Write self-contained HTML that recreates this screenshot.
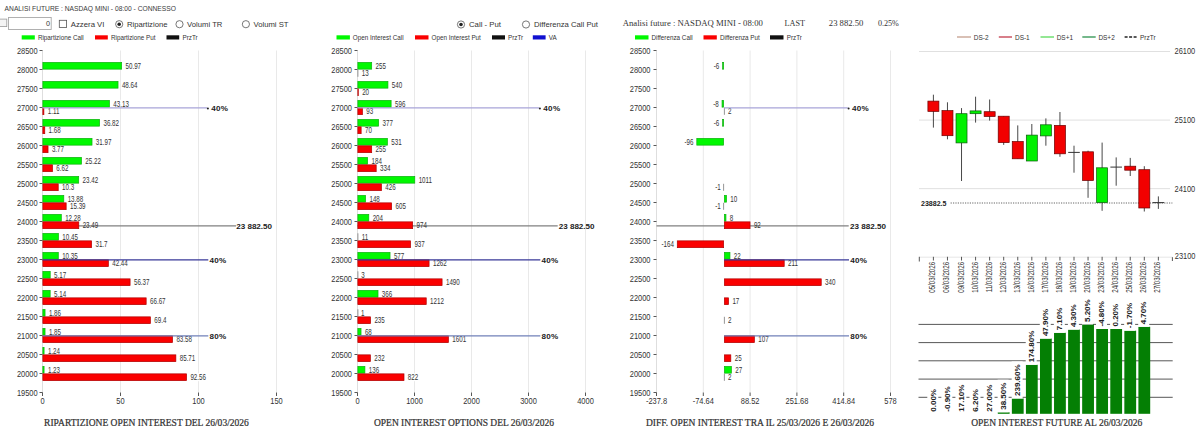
<!DOCTYPE html><html><head><meta charset="utf-8"><style>html,body{margin:0;padding:0;background:#fff;overflow:hidden;}svg{display:block;}</style></head><body>
<svg width="1200" height="431" viewBox="0 0 1200 431">
<rect x="0.00" y="0.00" width="1200.00" height="431.00" fill="#fff" stroke="none" stroke-width="0" />
<text x="4.60" y="10.67" font-size="6.7" text-anchor="start" font-weight="normal" font-family='"Liberation Sans", sans-serif' fill="#3a3a3a" >ANALISI FUTURE : NASDAQ MINI - 08:00 - CONNESSO</text>
<rect x="-2.00" y="19.10" width="8.80" height="7.50" fill="#f4f4f4" stroke="#9a9a9a" stroke-width="0.8" />
<rect x="8.50" y="17.50" width="42.70" height="12.00" fill="#fff" stroke="#a8a8a8" stroke-width="0.9" />
<text x="50.00" y="26.25" font-size="7.2" text-anchor="end" font-weight="normal" font-family='"Liberation Sans", sans-serif' fill="#333" >0</text>
<rect x="59.30" y="20.30" width="7.30" height="7.30" fill="#fff" stroke="#555" stroke-width="0.8" />
<text x="70.80" y="26.65" font-size="7.77" text-anchor="start" font-weight="normal" font-family='"Liberation Sans", sans-serif' fill="#333" >Azzera VI</text>
<circle cx="119.2" cy="24.2" r="3.6" fill="#fff" stroke="#555" stroke-width="0.8"/>
<circle cx="119.2" cy="24.2" r="1.8" fill="#222"/>
<text x="126.90" y="26.93" font-size="7.7" text-anchor="start" font-weight="normal" font-family='"Liberation Sans", sans-serif' fill="#333" >Ripartizione</text>
<circle cx="179.5" cy="24.2" r="3.6" fill="#fff" stroke="#555" stroke-width="0.8"/>
<text x="187.10" y="26.93" font-size="7.7" text-anchor="start" font-weight="normal" font-family='"Liberation Sans", sans-serif' fill="#333" >Volumi TR</text>
<circle cx="245.9" cy="24.2" r="3.6" fill="#fff" stroke="#555" stroke-width="0.8"/>
<text x="253.50" y="26.93" font-size="7.7" text-anchor="start" font-weight="normal" font-family='"Liberation Sans", sans-serif' fill="#333" >Volumi ST</text>
<rect x="21.70" y="35.30" width="13.10" height="4.20" fill="#00f800" stroke="none" stroke-width="0" />
<text x="37.90" y="39.63" font-size="6.3" text-anchor="start" font-weight="normal" font-family='"Liberation Sans", sans-serif' fill="#333" >Ripartizione Call</text>
<rect x="95.00" y="35.30" width="12.80" height="4.20" fill="#fa0000" stroke="none" stroke-width="0" />
<text x="111.00" y="39.63" font-size="6.3" text-anchor="start" font-weight="normal" font-family='"Liberation Sans", sans-serif' fill="#333" >Ripartizione Put</text>
<rect x="166.50" y="35.30" width="12.70" height="4.20" fill="#111" stroke="none" stroke-width="0" />
<text x="182.50" y="39.63" font-size="6.3" text-anchor="start" font-weight="normal" font-family='"Liberation Sans", sans-serif' fill="#333" >PrzTr</text>
<line x1="120.50" y1="50.50" x2="120.50" y2="392.50" stroke="#e9e9e9" stroke-width="1" />
<line x1="198.50" y1="50.50" x2="198.50" y2="392.50" stroke="#e9e9e9" stroke-width="1" />
<line x1="276.50" y1="50.50" x2="276.50" y2="392.50" stroke="#e9e9e9" stroke-width="1" />
<line x1="42.50" y1="50.50" x2="42.50" y2="392.50" stroke="#dedede" stroke-width="1" />
<line x1="39.50" y1="50.50" x2="42.50" y2="50.50" stroke="#444" stroke-width="0.9" />
<text transform="translate(37.60,54.14) scale(0.9,1)" font-size="8.3" text-anchor="end" font-weight="normal" font-family='"Liberation Sans", sans-serif' fill="#333" >28500</text>
<line x1="39.50" y1="69.50" x2="42.50" y2="69.50" stroke="#444" stroke-width="0.9" />
<text transform="translate(37.60,73.14) scale(0.9,1)" font-size="8.3" text-anchor="end" font-weight="normal" font-family='"Liberation Sans", sans-serif' fill="#333" >28000</text>
<line x1="39.50" y1="88.50" x2="42.50" y2="88.50" stroke="#444" stroke-width="0.9" />
<text transform="translate(37.60,92.14) scale(0.9,1)" font-size="8.3" text-anchor="end" font-weight="normal" font-family='"Liberation Sans", sans-serif' fill="#333" >27500</text>
<line x1="39.50" y1="107.50" x2="42.50" y2="107.50" stroke="#444" stroke-width="0.9" />
<text transform="translate(37.60,111.14) scale(0.9,1)" font-size="8.3" text-anchor="end" font-weight="normal" font-family='"Liberation Sans", sans-serif' fill="#333" >27000</text>
<line x1="39.50" y1="126.50" x2="42.50" y2="126.50" stroke="#444" stroke-width="0.9" />
<text transform="translate(37.60,130.14) scale(0.9,1)" font-size="8.3" text-anchor="end" font-weight="normal" font-family='"Liberation Sans", sans-serif' fill="#333" >26500</text>
<line x1="39.50" y1="145.50" x2="42.50" y2="145.50" stroke="#444" stroke-width="0.9" />
<text transform="translate(37.60,149.14) scale(0.9,1)" font-size="8.3" text-anchor="end" font-weight="normal" font-family='"Liberation Sans", sans-serif' fill="#333" >26000</text>
<line x1="39.50" y1="164.50" x2="42.50" y2="164.50" stroke="#444" stroke-width="0.9" />
<text transform="translate(37.60,168.14) scale(0.9,1)" font-size="8.3" text-anchor="end" font-weight="normal" font-family='"Liberation Sans", sans-serif' fill="#333" >25500</text>
<line x1="39.50" y1="183.50" x2="42.50" y2="183.50" stroke="#444" stroke-width="0.9" />
<text transform="translate(37.60,187.14) scale(0.9,1)" font-size="8.3" text-anchor="end" font-weight="normal" font-family='"Liberation Sans", sans-serif' fill="#333" >25000</text>
<line x1="39.50" y1="202.50" x2="42.50" y2="202.50" stroke="#444" stroke-width="0.9" />
<text transform="translate(37.60,206.14) scale(0.9,1)" font-size="8.3" text-anchor="end" font-weight="normal" font-family='"Liberation Sans", sans-serif' fill="#333" >24500</text>
<line x1="39.50" y1="221.50" x2="42.50" y2="221.50" stroke="#444" stroke-width="0.9" />
<text transform="translate(37.60,225.14) scale(0.9,1)" font-size="8.3" text-anchor="end" font-weight="normal" font-family='"Liberation Sans", sans-serif' fill="#333" >24000</text>
<line x1="39.50" y1="240.50" x2="42.50" y2="240.50" stroke="#444" stroke-width="0.9" />
<text transform="translate(37.60,244.14) scale(0.9,1)" font-size="8.3" text-anchor="end" font-weight="normal" font-family='"Liberation Sans", sans-serif' fill="#333" >23500</text>
<line x1="39.50" y1="259.50" x2="42.50" y2="259.50" stroke="#444" stroke-width="0.9" />
<text transform="translate(37.60,263.14) scale(0.9,1)" font-size="8.3" text-anchor="end" font-weight="normal" font-family='"Liberation Sans", sans-serif' fill="#333" >23000</text>
<line x1="39.50" y1="278.50" x2="42.50" y2="278.50" stroke="#444" stroke-width="0.9" />
<text transform="translate(37.60,282.14) scale(0.9,1)" font-size="8.3" text-anchor="end" font-weight="normal" font-family='"Liberation Sans", sans-serif' fill="#333" >22500</text>
<line x1="39.50" y1="297.50" x2="42.50" y2="297.50" stroke="#444" stroke-width="0.9" />
<text transform="translate(37.60,301.14) scale(0.9,1)" font-size="8.3" text-anchor="end" font-weight="normal" font-family='"Liberation Sans", sans-serif' fill="#333" >22000</text>
<line x1="39.50" y1="316.50" x2="42.50" y2="316.50" stroke="#444" stroke-width="0.9" />
<text transform="translate(37.60,320.14) scale(0.9,1)" font-size="8.3" text-anchor="end" font-weight="normal" font-family='"Liberation Sans", sans-serif' fill="#333" >21500</text>
<line x1="39.50" y1="335.50" x2="42.50" y2="335.50" stroke="#444" stroke-width="0.9" />
<text transform="translate(37.60,339.14) scale(0.9,1)" font-size="8.3" text-anchor="end" font-weight="normal" font-family='"Liberation Sans", sans-serif' fill="#333" >21000</text>
<line x1="39.50" y1="354.50" x2="42.50" y2="354.50" stroke="#444" stroke-width="0.9" />
<text transform="translate(37.60,358.14) scale(0.9,1)" font-size="8.3" text-anchor="end" font-weight="normal" font-family='"Liberation Sans", sans-serif' fill="#333" >20500</text>
<line x1="39.50" y1="373.50" x2="42.50" y2="373.50" stroke="#444" stroke-width="0.9" />
<text transform="translate(37.60,377.14) scale(0.9,1)" font-size="8.3" text-anchor="end" font-weight="normal" font-family='"Liberation Sans", sans-serif' fill="#333" >20000</text>
<line x1="39.50" y1="392.50" x2="42.50" y2="392.50" stroke="#444" stroke-width="0.9" />
<text transform="translate(37.60,396.14) scale(0.9,1)" font-size="8.3" text-anchor="end" font-weight="normal" font-family='"Liberation Sans", sans-serif' fill="#333" >19500</text>
<line x1="42.50" y1="392.50" x2="42.50" y2="396.00" stroke="#444" stroke-width="0.9" />
<text transform="translate(42.50,404.14) scale(0.9,1)" font-size="8.3" text-anchor="middle" font-weight="normal" font-family='"Liberation Sans", sans-serif' fill="#333" >0</text>
<line x1="120.50" y1="392.50" x2="120.50" y2="396.00" stroke="#444" stroke-width="0.9" />
<text transform="translate(120.50,404.14) scale(0.9,1)" font-size="8.3" text-anchor="middle" font-weight="normal" font-family='"Liberation Sans", sans-serif' fill="#333" >50</text>
<line x1="198.50" y1="392.50" x2="198.50" y2="396.00" stroke="#444" stroke-width="0.9" />
<text transform="translate(198.50,404.14) scale(0.9,1)" font-size="8.3" text-anchor="middle" font-weight="normal" font-family='"Liberation Sans", sans-serif' fill="#333" >100</text>
<line x1="276.50" y1="392.50" x2="276.50" y2="396.00" stroke="#444" stroke-width="0.9" />
<text transform="translate(276.50,404.14) scale(0.9,1)" font-size="8.3" text-anchor="middle" font-weight="normal" font-family='"Liberation Sans", sans-serif' fill="#333" >150</text>
<rect x="124.51" y="61.80" width="17.60" height="8.00" fill="#fff" stroke="none" stroke-width="0" />
<rect x="120.88" y="80.80" width="17.60" height="8.00" fill="#fff" stroke="none" stroke-width="0" />
<rect x="112.28" y="99.80" width="17.60" height="8.00" fill="#fff" stroke="none" stroke-width="0" />
<rect x="46.73" y="107.20" width="13.67" height="8.00" fill="#fff" stroke="none" stroke-width="0" />
<rect x="102.44" y="118.80" width="17.60" height="8.00" fill="#fff" stroke="none" stroke-width="0" />
<rect x="47.62" y="126.20" width="14.13" height="8.00" fill="#fff" stroke="none" stroke-width="0" />
<rect x="94.87" y="137.80" width="17.60" height="8.00" fill="#fff" stroke="none" stroke-width="0" />
<rect x="50.88" y="145.20" width="14.13" height="8.00" fill="#fff" stroke="none" stroke-width="0" />
<rect x="84.34" y="156.80" width="17.60" height="8.00" fill="#fff" stroke="none" stroke-width="0" />
<rect x="55.33" y="164.20" width="14.13" height="8.00" fill="#fff" stroke="none" stroke-width="0" />
<rect x="81.54" y="175.80" width="17.60" height="8.00" fill="#fff" stroke="none" stroke-width="0" />
<rect x="61.07" y="183.20" width="14.13" height="8.00" fill="#fff" stroke="none" stroke-width="0" />
<rect x="66.65" y="194.80" width="17.60" height="8.00" fill="#fff" stroke="none" stroke-width="0" />
<rect x="69.01" y="202.20" width="17.60" height="8.00" fill="#fff" stroke="none" stroke-width="0" />
<rect x="64.16" y="213.80" width="17.60" height="8.00" fill="#fff" stroke="none" stroke-width="0" />
<rect x="81.64" y="221.20" width="17.60" height="8.00" fill="#fff" stroke="none" stroke-width="0" />
<rect x="61.30" y="232.80" width="17.60" height="8.00" fill="#fff" stroke="none" stroke-width="0" />
<rect x="94.45" y="240.20" width="14.13" height="8.00" fill="#fff" stroke="none" stroke-width="0" />
<rect x="61.15" y="251.80" width="17.60" height="8.00" fill="#fff" stroke="none" stroke-width="0" />
<rect x="111.21" y="259.20" width="17.60" height="8.00" fill="#fff" stroke="none" stroke-width="0" />
<rect x="53.07" y="270.80" width="14.13" height="8.00" fill="#fff" stroke="none" stroke-width="0" />
<rect x="132.94" y="278.20" width="17.60" height="8.00" fill="#fff" stroke="none" stroke-width="0" />
<rect x="53.02" y="289.80" width="14.13" height="8.00" fill="#fff" stroke="none" stroke-width="0" />
<rect x="149.01" y="297.20" width="17.60" height="8.00" fill="#fff" stroke="none" stroke-width="0" />
<rect x="47.90" y="308.80" width="14.13" height="8.00" fill="#fff" stroke="none" stroke-width="0" />
<rect x="153.26" y="316.20" width="14.13" height="8.00" fill="#fff" stroke="none" stroke-width="0" />
<rect x="47.89" y="327.80" width="14.13" height="8.00" fill="#fff" stroke="none" stroke-width="0" />
<rect x="175.38" y="335.20" width="17.60" height="8.00" fill="#fff" stroke="none" stroke-width="0" />
<rect x="46.93" y="346.80" width="14.13" height="8.00" fill="#fff" stroke="none" stroke-width="0" />
<rect x="178.71" y="354.20" width="17.60" height="8.00" fill="#fff" stroke="none" stroke-width="0" />
<rect x="46.92" y="365.80" width="14.13" height="8.00" fill="#fff" stroke="none" stroke-width="0" />
<rect x="189.39" y="373.20" width="17.60" height="8.00" fill="#fff" stroke="none" stroke-width="0" />
<line x1="42.50" y1="225.97" x2="236.00" y2="225.97" stroke="#808080" stroke-width="1.2" />
<rect x="42.85" y="62.35" width="78.81" height="6.80" fill="#00f800" stroke="#10b010" stroke-width="0.7" />
<text transform="translate(125.51,68.70) scale(0.76,1)" font-size="8.2" text-anchor="start" font-weight="normal" font-family='"Liberation Sans", sans-serif' fill="#333" >50.97</text>
<rect x="42.85" y="81.35" width="75.18" height="6.80" fill="#00f800" stroke="#10b010" stroke-width="0.7" />
<text transform="translate(121.88,87.70) scale(0.76,1)" font-size="8.2" text-anchor="start" font-weight="normal" font-family='"Liberation Sans", sans-serif' fill="#333" >48.64</text>
<rect x="42.85" y="100.35" width="66.58" height="6.80" fill="#00f800" stroke="#10b010" stroke-width="0.7" />
<text transform="translate(113.28,106.70) scale(0.76,1)" font-size="8.2" text-anchor="start" font-weight="normal" font-family='"Liberation Sans", sans-serif' fill="#333" >43.13</text>
<rect x="42.85" y="107.85" width="1.03" height="6.80" fill="#fa0000" stroke="#b00000" stroke-width="0.7" />
<text transform="translate(47.73,114.10) scale(0.76,1)" font-size="8.2" text-anchor="start" font-weight="normal" font-family='"Liberation Sans", sans-serif' fill="#333" >1.11</text>
<rect x="42.85" y="119.35" width="56.74" height="6.80" fill="#00f800" stroke="#10b010" stroke-width="0.7" />
<text transform="translate(103.44,125.70) scale(0.76,1)" font-size="8.2" text-anchor="start" font-weight="normal" font-family='"Liberation Sans", sans-serif' fill="#333" >36.82</text>
<rect x="42.85" y="126.85" width="1.92" height="6.80" fill="#fa0000" stroke="#b00000" stroke-width="0.7" />
<text transform="translate(48.62,133.10) scale(0.76,1)" font-size="8.2" text-anchor="start" font-weight="normal" font-family='"Liberation Sans", sans-serif' fill="#333" >1.68</text>
<rect x="42.85" y="138.35" width="49.17" height="6.80" fill="#00f800" stroke="#10b010" stroke-width="0.7" />
<text transform="translate(95.87,144.70) scale(0.76,1)" font-size="8.2" text-anchor="start" font-weight="normal" font-family='"Liberation Sans", sans-serif' fill="#333" >31.97</text>
<rect x="42.85" y="145.85" width="5.18" height="6.80" fill="#fa0000" stroke="#b00000" stroke-width="0.7" />
<text transform="translate(51.88,152.10) scale(0.76,1)" font-size="8.2" text-anchor="start" font-weight="normal" font-family='"Liberation Sans", sans-serif' fill="#333" >3.77</text>
<rect x="42.85" y="157.35" width="38.64" height="6.80" fill="#00f800" stroke="#10b010" stroke-width="0.7" />
<text transform="translate(85.34,163.70) scale(0.76,1)" font-size="8.2" text-anchor="start" font-weight="normal" font-family='"Liberation Sans", sans-serif' fill="#333" >25.22</text>
<rect x="42.85" y="164.85" width="9.63" height="6.80" fill="#fa0000" stroke="#b00000" stroke-width="0.7" />
<text transform="translate(56.33,171.10) scale(0.76,1)" font-size="8.2" text-anchor="start" font-weight="normal" font-family='"Liberation Sans", sans-serif' fill="#333" >6.62</text>
<rect x="42.85" y="176.35" width="35.84" height="6.80" fill="#00f800" stroke="#10b010" stroke-width="0.7" />
<text transform="translate(82.54,182.70) scale(0.76,1)" font-size="8.2" text-anchor="start" font-weight="normal" font-family='"Liberation Sans", sans-serif' fill="#333" >23.42</text>
<rect x="42.85" y="183.85" width="15.37" height="6.80" fill="#fa0000" stroke="#b00000" stroke-width="0.7" />
<text transform="translate(62.07,190.10) scale(0.76,1)" font-size="8.2" text-anchor="start" font-weight="normal" font-family='"Liberation Sans", sans-serif' fill="#333" >10.3</text>
<rect x="42.85" y="195.35" width="20.95" height="6.80" fill="#00f800" stroke="#10b010" stroke-width="0.7" />
<text transform="translate(67.65,201.70) scale(0.76,1)" font-size="8.2" text-anchor="start" font-weight="normal" font-family='"Liberation Sans", sans-serif' fill="#333" >13.88</text>
<rect x="42.85" y="202.85" width="23.31" height="6.80" fill="#fa0000" stroke="#b00000" stroke-width="0.7" />
<text transform="translate(70.01,209.10) scale(0.76,1)" font-size="8.2" text-anchor="start" font-weight="normal" font-family='"Liberation Sans", sans-serif' fill="#333" >15.39</text>
<rect x="42.85" y="214.35" width="18.46" height="6.80" fill="#00f800" stroke="#10b010" stroke-width="0.7" />
<text transform="translate(65.16,220.70) scale(0.76,1)" font-size="8.2" text-anchor="start" font-weight="normal" font-family='"Liberation Sans", sans-serif' fill="#333" >12.28</text>
<rect x="42.85" y="221.85" width="35.94" height="6.80" fill="#fa0000" stroke="#b00000" stroke-width="0.7" />
<text transform="translate(82.64,228.10) scale(0.76,1)" font-size="8.2" text-anchor="start" font-weight="normal" font-family='"Liberation Sans", sans-serif' fill="#333" >23.49</text>
<rect x="42.85" y="233.35" width="15.60" height="6.80" fill="#00f800" stroke="#10b010" stroke-width="0.7" />
<text transform="translate(62.30,239.70) scale(0.76,1)" font-size="8.2" text-anchor="start" font-weight="normal" font-family='"Liberation Sans", sans-serif' fill="#333" >10.45</text>
<rect x="42.85" y="240.85" width="48.75" height="6.80" fill="#fa0000" stroke="#b00000" stroke-width="0.7" />
<text transform="translate(95.45,247.10) scale(0.76,1)" font-size="8.2" text-anchor="start" font-weight="normal" font-family='"Liberation Sans", sans-serif' fill="#333" >31.7</text>
<rect x="42.85" y="252.35" width="15.45" height="6.80" fill="#00f800" stroke="#10b010" stroke-width="0.7" />
<text transform="translate(62.15,258.70) scale(0.76,1)" font-size="8.2" text-anchor="start" font-weight="normal" font-family='"Liberation Sans", sans-serif' fill="#333" >10.35</text>
<rect x="42.85" y="259.85" width="65.51" height="6.80" fill="#fa0000" stroke="#b00000" stroke-width="0.7" />
<text transform="translate(112.21,266.10) scale(0.76,1)" font-size="8.2" text-anchor="start" font-weight="normal" font-family='"Liberation Sans", sans-serif' fill="#333" >42.44</text>
<rect x="42.85" y="271.35" width="7.37" height="6.80" fill="#00f800" stroke="#10b010" stroke-width="0.7" />
<text transform="translate(54.07,277.70) scale(0.76,1)" font-size="8.2" text-anchor="start" font-weight="normal" font-family='"Liberation Sans", sans-serif' fill="#333" >5.17</text>
<rect x="42.85" y="278.85" width="87.24" height="6.80" fill="#fa0000" stroke="#b00000" stroke-width="0.7" />
<text transform="translate(133.94,285.10) scale(0.76,1)" font-size="8.2" text-anchor="start" font-weight="normal" font-family='"Liberation Sans", sans-serif' fill="#333" >56.37</text>
<rect x="42.85" y="290.35" width="7.32" height="6.80" fill="#00f800" stroke="#10b010" stroke-width="0.7" />
<text transform="translate(54.02,296.70) scale(0.76,1)" font-size="8.2" text-anchor="start" font-weight="normal" font-family='"Liberation Sans", sans-serif' fill="#333" >5.14</text>
<rect x="42.85" y="297.85" width="103.31" height="6.80" fill="#fa0000" stroke="#b00000" stroke-width="0.7" />
<text transform="translate(150.01,304.10) scale(0.76,1)" font-size="8.2" text-anchor="start" font-weight="normal" font-family='"Liberation Sans", sans-serif' fill="#333" >66.67</text>
<rect x="42.85" y="309.35" width="2.20" height="6.80" fill="#00f800" stroke="#10b010" stroke-width="0.7" />
<text transform="translate(48.90,315.70) scale(0.76,1)" font-size="8.2" text-anchor="start" font-weight="normal" font-family='"Liberation Sans", sans-serif' fill="#333" >1.86</text>
<rect x="42.85" y="316.85" width="107.56" height="6.80" fill="#fa0000" stroke="#b00000" stroke-width="0.7" />
<text transform="translate(154.26,323.10) scale(0.76,1)" font-size="8.2" text-anchor="start" font-weight="normal" font-family='"Liberation Sans", sans-serif' fill="#333" >69.4</text>
<rect x="42.85" y="328.35" width="2.19" height="6.80" fill="#00f800" stroke="#10b010" stroke-width="0.7" />
<text transform="translate(48.89,334.70) scale(0.76,1)" font-size="8.2" text-anchor="start" font-weight="normal" font-family='"Liberation Sans", sans-serif' fill="#333" >1.85</text>
<rect x="42.85" y="335.85" width="129.68" height="6.80" fill="#fa0000" stroke="#b00000" stroke-width="0.7" />
<text transform="translate(176.38,342.10) scale(0.76,1)" font-size="8.2" text-anchor="start" font-weight="normal" font-family='"Liberation Sans", sans-serif' fill="#333" >83.58</text>
<rect x="42.85" y="347.35" width="1.23" height="6.80" fill="#00f800" stroke="#10b010" stroke-width="0.7" />
<text transform="translate(47.93,353.70) scale(0.76,1)" font-size="8.2" text-anchor="start" font-weight="normal" font-family='"Liberation Sans", sans-serif' fill="#333" >1.24</text>
<rect x="42.85" y="354.85" width="133.01" height="6.80" fill="#fa0000" stroke="#b00000" stroke-width="0.7" />
<text transform="translate(179.71,361.10) scale(0.76,1)" font-size="8.2" text-anchor="start" font-weight="normal" font-family='"Liberation Sans", sans-serif' fill="#333" >85.71</text>
<rect x="42.85" y="366.35" width="1.22" height="6.80" fill="#00f800" stroke="#10b010" stroke-width="0.7" />
<text transform="translate(47.92,372.70) scale(0.76,1)" font-size="8.2" text-anchor="start" font-weight="normal" font-family='"Liberation Sans", sans-serif' fill="#333" >1.23</text>
<rect x="42.85" y="373.85" width="143.69" height="6.80" fill="#fa0000" stroke="#b00000" stroke-width="0.7" />
<text transform="translate(190.39,380.10) scale(0.76,1)" font-size="8.2" text-anchor="start" font-weight="normal" font-family='"Liberation Sans", sans-serif' fill="#333" >92.56</text>
<line x1="42.50" y1="107.80" x2="207.10" y2="107.80" stroke="#a8a4d8" stroke-width="1.3" />
<circle cx="207.90" cy="108.40" r="1.0" fill="#222"/>
<text x="211.20" y="111.37" font-size="8.1" text-anchor="start" font-weight="bold" font-family='"Liberation Sans", sans-serif' fill="#222" letter-spacing="0.3">40%</text>
<text x="236.20" y="229.12" font-size="8.07" text-anchor="start" font-weight="bold" font-family='"Liberation Sans", sans-serif' fill="#222" >23 882.50</text>
<line x1="42.50" y1="259.80" x2="208.30" y2="259.80" stroke="#383898" stroke-width="1.3" />
<text x="209.40" y="263.37" font-size="8.1" text-anchor="start" font-weight="bold" font-family='"Liberation Sans", sans-serif' fill="#222" letter-spacing="0.3">40%</text>
<line x1="42.50" y1="335.80" x2="208.30" y2="335.80" stroke="#7080b8" stroke-width="1.3" />
<text x="209.40" y="339.37" font-size="8.1" text-anchor="start" font-weight="bold" font-family='"Liberation Sans", sans-serif' fill="#222" letter-spacing="0.3">80%</text>
<text x="44.10" y="425.67" font-size="9.52" text-anchor="start" font-weight="normal" font-family='"Liberation Serif", serif' fill="#333" stroke="#333" stroke-width="0.22">RIPARTIZIONE OPEN INTEREST DEL 26/03/2026</text>
<circle cx="461" cy="24.5" r="3.6" fill="#fff" stroke="#555" stroke-width="0.8"/>
<circle cx="461" cy="24.5" r="1.8" fill="#222"/>
<text x="469.00" y="27.25" font-size="7.78" text-anchor="start" font-weight="normal" font-family='"Liberation Sans", sans-serif' fill="#333" >Call - Put</text>
<circle cx="526" cy="24.5" r="3.6" fill="#fff" stroke="#555" stroke-width="0.8"/>
<text x="534.00" y="27.22" font-size="7.69" text-anchor="start" font-weight="normal" font-family='"Liberation Sans", sans-serif' fill="#333" >Differenza Call Put</text>
<rect x="336.50" y="35.30" width="13.40" height="4.20" fill="#00f800" stroke="none" stroke-width="0" />
<text x="352.80" y="39.63" font-size="6.3" text-anchor="start" font-weight="normal" font-family='"Liberation Sans", sans-serif' fill="#333" >Open Interest Call</text>
<rect x="415.00" y="35.30" width="13.50" height="4.20" fill="#fa0000" stroke="none" stroke-width="0" />
<text x="431.50" y="39.63" font-size="6.3" text-anchor="start" font-weight="normal" font-family='"Liberation Sans", sans-serif' fill="#333" >Open Interest Put</text>
<rect x="492.00" y="35.30" width="13.00" height="4.20" fill="#111" stroke="none" stroke-width="0" />
<text x="508.00" y="39.63" font-size="6.3" text-anchor="start" font-weight="normal" font-family='"Liberation Sans", sans-serif' fill="#333" >PrzTr</text>
<rect x="532.80" y="35.30" width="12.80" height="4.20" fill="#1010d0" stroke="none" stroke-width="0" />
<text x="548.80" y="39.63" font-size="6.3" text-anchor="start" font-weight="normal" font-family='"Liberation Sans", sans-serif' fill="#333" >VA</text>
<line x1="414.50" y1="50.50" x2="414.50" y2="392.50" stroke="#e9e9e9" stroke-width="1" />
<line x1="471.50" y1="50.50" x2="471.50" y2="392.50" stroke="#e9e9e9" stroke-width="1" />
<line x1="528.50" y1="50.50" x2="528.50" y2="392.50" stroke="#e9e9e9" stroke-width="1" />
<line x1="585.50" y1="50.50" x2="585.50" y2="392.50" stroke="#e9e9e9" stroke-width="1" />
<line x1="357.50" y1="50.50" x2="357.50" y2="392.50" stroke="#dedede" stroke-width="1" />
<line x1="354.50" y1="50.50" x2="357.50" y2="50.50" stroke="#444" stroke-width="0.9" />
<text transform="translate(352.00,54.14) scale(0.9,1)" font-size="8.3" text-anchor="end" font-weight="normal" font-family='"Liberation Sans", sans-serif' fill="#333" >28500</text>
<line x1="354.50" y1="69.50" x2="357.50" y2="69.50" stroke="#444" stroke-width="0.9" />
<text transform="translate(352.00,73.14) scale(0.9,1)" font-size="8.3" text-anchor="end" font-weight="normal" font-family='"Liberation Sans", sans-serif' fill="#333" >28000</text>
<line x1="354.50" y1="88.50" x2="357.50" y2="88.50" stroke="#444" stroke-width="0.9" />
<text transform="translate(352.00,92.14) scale(0.9,1)" font-size="8.3" text-anchor="end" font-weight="normal" font-family='"Liberation Sans", sans-serif' fill="#333" >27500</text>
<line x1="354.50" y1="107.50" x2="357.50" y2="107.50" stroke="#444" stroke-width="0.9" />
<text transform="translate(352.00,111.14) scale(0.9,1)" font-size="8.3" text-anchor="end" font-weight="normal" font-family='"Liberation Sans", sans-serif' fill="#333" >27000</text>
<line x1="354.50" y1="126.50" x2="357.50" y2="126.50" stroke="#444" stroke-width="0.9" />
<text transform="translate(352.00,130.14) scale(0.9,1)" font-size="8.3" text-anchor="end" font-weight="normal" font-family='"Liberation Sans", sans-serif' fill="#333" >26500</text>
<line x1="354.50" y1="145.50" x2="357.50" y2="145.50" stroke="#444" stroke-width="0.9" />
<text transform="translate(352.00,149.14) scale(0.9,1)" font-size="8.3" text-anchor="end" font-weight="normal" font-family='"Liberation Sans", sans-serif' fill="#333" >26000</text>
<line x1="354.50" y1="164.50" x2="357.50" y2="164.50" stroke="#444" stroke-width="0.9" />
<text transform="translate(352.00,168.14) scale(0.9,1)" font-size="8.3" text-anchor="end" font-weight="normal" font-family='"Liberation Sans", sans-serif' fill="#333" >25500</text>
<line x1="354.50" y1="183.50" x2="357.50" y2="183.50" stroke="#444" stroke-width="0.9" />
<text transform="translate(352.00,187.14) scale(0.9,1)" font-size="8.3" text-anchor="end" font-weight="normal" font-family='"Liberation Sans", sans-serif' fill="#333" >25000</text>
<line x1="354.50" y1="202.50" x2="357.50" y2="202.50" stroke="#444" stroke-width="0.9" />
<text transform="translate(352.00,206.14) scale(0.9,1)" font-size="8.3" text-anchor="end" font-weight="normal" font-family='"Liberation Sans", sans-serif' fill="#333" >24500</text>
<line x1="354.50" y1="221.50" x2="357.50" y2="221.50" stroke="#444" stroke-width="0.9" />
<text transform="translate(352.00,225.14) scale(0.9,1)" font-size="8.3" text-anchor="end" font-weight="normal" font-family='"Liberation Sans", sans-serif' fill="#333" >24000</text>
<line x1="354.50" y1="240.50" x2="357.50" y2="240.50" stroke="#444" stroke-width="0.9" />
<text transform="translate(352.00,244.14) scale(0.9,1)" font-size="8.3" text-anchor="end" font-weight="normal" font-family='"Liberation Sans", sans-serif' fill="#333" >23500</text>
<line x1="354.50" y1="259.50" x2="357.50" y2="259.50" stroke="#444" stroke-width="0.9" />
<text transform="translate(352.00,263.14) scale(0.9,1)" font-size="8.3" text-anchor="end" font-weight="normal" font-family='"Liberation Sans", sans-serif' fill="#333" >23000</text>
<line x1="354.50" y1="278.50" x2="357.50" y2="278.50" stroke="#444" stroke-width="0.9" />
<text transform="translate(352.00,282.14) scale(0.9,1)" font-size="8.3" text-anchor="end" font-weight="normal" font-family='"Liberation Sans", sans-serif' fill="#333" >22500</text>
<line x1="354.50" y1="297.50" x2="357.50" y2="297.50" stroke="#444" stroke-width="0.9" />
<text transform="translate(352.00,301.14) scale(0.9,1)" font-size="8.3" text-anchor="end" font-weight="normal" font-family='"Liberation Sans", sans-serif' fill="#333" >22000</text>
<line x1="354.50" y1="316.50" x2="357.50" y2="316.50" stroke="#444" stroke-width="0.9" />
<text transform="translate(352.00,320.14) scale(0.9,1)" font-size="8.3" text-anchor="end" font-weight="normal" font-family='"Liberation Sans", sans-serif' fill="#333" >21500</text>
<line x1="354.50" y1="335.50" x2="357.50" y2="335.50" stroke="#444" stroke-width="0.9" />
<text transform="translate(352.00,339.14) scale(0.9,1)" font-size="8.3" text-anchor="end" font-weight="normal" font-family='"Liberation Sans", sans-serif' fill="#333" >21000</text>
<line x1="354.50" y1="354.50" x2="357.50" y2="354.50" stroke="#444" stroke-width="0.9" />
<text transform="translate(352.00,358.14) scale(0.9,1)" font-size="8.3" text-anchor="end" font-weight="normal" font-family='"Liberation Sans", sans-serif' fill="#333" >20500</text>
<line x1="354.50" y1="373.50" x2="357.50" y2="373.50" stroke="#444" stroke-width="0.9" />
<text transform="translate(352.00,377.14) scale(0.9,1)" font-size="8.3" text-anchor="end" font-weight="normal" font-family='"Liberation Sans", sans-serif' fill="#333" >20000</text>
<line x1="354.50" y1="392.50" x2="357.50" y2="392.50" stroke="#444" stroke-width="0.9" />
<text transform="translate(352.00,396.14) scale(0.9,1)" font-size="8.3" text-anchor="end" font-weight="normal" font-family='"Liberation Sans", sans-serif' fill="#333" >19500</text>
<line x1="357.50" y1="392.50" x2="357.50" y2="396.00" stroke="#444" stroke-width="0.9" />
<text transform="translate(357.50,404.14) scale(0.9,1)" font-size="8.3" text-anchor="middle" font-weight="normal" font-family='"Liberation Sans", sans-serif' fill="#333" >0</text>
<line x1="414.50" y1="392.50" x2="414.50" y2="396.00" stroke="#444" stroke-width="0.9" />
<text transform="translate(414.50,404.14) scale(0.9,1)" font-size="8.3" text-anchor="middle" font-weight="normal" font-family='"Liberation Sans", sans-serif' fill="#333" >1000</text>
<line x1="471.50" y1="392.50" x2="471.50" y2="396.00" stroke="#444" stroke-width="0.9" />
<text transform="translate(471.50,404.14) scale(0.9,1)" font-size="8.3" text-anchor="middle" font-weight="normal" font-family='"Liberation Sans", sans-serif' fill="#333" >2000</text>
<line x1="528.50" y1="392.50" x2="528.50" y2="396.00" stroke="#444" stroke-width="0.9" />
<text transform="translate(528.50,404.14) scale(0.9,1)" font-size="8.3" text-anchor="middle" font-weight="normal" font-family='"Liberation Sans", sans-serif' fill="#333" >3000</text>
<line x1="585.50" y1="392.50" x2="585.50" y2="396.00" stroke="#444" stroke-width="0.9" />
<text transform="translate(585.50,404.14) scale(0.9,1)" font-size="8.3" text-anchor="middle" font-weight="normal" font-family='"Liberation Sans", sans-serif' fill="#333" >4000</text>
<rect x="374.54" y="61.80" width="12.40" height="8.00" fill="#fff" stroke="none" stroke-width="0" />
<rect x="360.74" y="69.20" width="8.93" height="8.00" fill="#fff" stroke="none" stroke-width="0" />
<rect x="390.78" y="80.80" width="12.40" height="8.00" fill="#fff" stroke="none" stroke-width="0" />
<rect x="361.14" y="88.20" width="8.93" height="8.00" fill="#fff" stroke="none" stroke-width="0" />
<rect x="393.97" y="99.80" width="12.40" height="8.00" fill="#fff" stroke="none" stroke-width="0" />
<rect x="365.30" y="107.20" width="8.93" height="8.00" fill="#fff" stroke="none" stroke-width="0" />
<rect x="381.49" y="118.80" width="12.40" height="8.00" fill="#fff" stroke="none" stroke-width="0" />
<rect x="363.99" y="126.20" width="8.93" height="8.00" fill="#fff" stroke="none" stroke-width="0" />
<rect x="390.27" y="137.80" width="12.40" height="8.00" fill="#fff" stroke="none" stroke-width="0" />
<rect x="374.54" y="145.20" width="12.40" height="8.00" fill="#fff" stroke="none" stroke-width="0" />
<rect x="370.49" y="156.80" width="12.40" height="8.00" fill="#fff" stroke="none" stroke-width="0" />
<rect x="379.04" y="164.20" width="12.40" height="8.00" fill="#fff" stroke="none" stroke-width="0" />
<rect x="417.63" y="175.80" width="15.40" height="8.00" fill="#fff" stroke="none" stroke-width="0" />
<rect x="384.28" y="183.20" width="12.40" height="8.00" fill="#fff" stroke="none" stroke-width="0" />
<rect x="368.44" y="194.80" width="12.40" height="8.00" fill="#fff" stroke="none" stroke-width="0" />
<rect x="394.49" y="202.20" width="12.40" height="8.00" fill="#fff" stroke="none" stroke-width="0" />
<rect x="371.63" y="213.80" width="12.40" height="8.00" fill="#fff" stroke="none" stroke-width="0" />
<rect x="415.52" y="221.20" width="12.40" height="8.00" fill="#fff" stroke="none" stroke-width="0" />
<rect x="360.63" y="232.80" width="8.47" height="8.00" fill="#fff" stroke="none" stroke-width="0" />
<rect x="413.41" y="240.20" width="12.40" height="8.00" fill="#fff" stroke="none" stroke-width="0" />
<rect x="392.89" y="251.80" width="12.40" height="8.00" fill="#fff" stroke="none" stroke-width="0" />
<rect x="431.93" y="259.20" width="15.86" height="8.00" fill="#fff" stroke="none" stroke-width="0" />
<rect x="360.17" y="270.80" width="5.47" height="8.00" fill="#fff" stroke="none" stroke-width="0" />
<rect x="444.93" y="278.20" width="15.86" height="8.00" fill="#fff" stroke="none" stroke-width="0" />
<rect x="380.86" y="289.80" width="12.40" height="8.00" fill="#fff" stroke="none" stroke-width="0" />
<rect x="429.08" y="297.20" width="15.86" height="8.00" fill="#fff" stroke="none" stroke-width="0" />
<rect x="360.06" y="308.80" width="5.47" height="8.00" fill="#fff" stroke="none" stroke-width="0" />
<rect x="373.39" y="316.20" width="12.40" height="8.00" fill="#fff" stroke="none" stroke-width="0" />
<rect x="363.88" y="327.80" width="8.93" height="8.00" fill="#fff" stroke="none" stroke-width="0" />
<rect x="451.26" y="335.20" width="15.86" height="8.00" fill="#fff" stroke="none" stroke-width="0" />
<rect x="373.22" y="354.20" width="12.40" height="8.00" fill="#fff" stroke="none" stroke-width="0" />
<rect x="367.75" y="365.80" width="12.40" height="8.00" fill="#fff" stroke="none" stroke-width="0" />
<rect x="406.85" y="373.20" width="12.40" height="8.00" fill="#fff" stroke="none" stroke-width="0" />
<line x1="357.50" y1="225.97" x2="557.70" y2="225.97" stroke="#808080" stroke-width="1.2" />
<rect x="357.85" y="62.35" width="13.84" height="6.80" fill="#00f800" stroke="#10b010" stroke-width="0.7" />
<text transform="translate(375.54,68.70) scale(0.76,1)" font-size="8.2" text-anchor="start" font-weight="normal" font-family='"Liberation Sans", sans-serif' fill="#333" >255</text>
<line x1="357.90" y1="69.80" x2="357.90" y2="76.80" stroke="#8a8a8a" stroke-width="0.9" />
<text transform="translate(361.74,76.10) scale(0.76,1)" font-size="8.2" text-anchor="start" font-weight="normal" font-family='"Liberation Sans", sans-serif' fill="#333" >13</text>
<rect x="357.85" y="81.35" width="30.08" height="6.80" fill="#00f800" stroke="#10b010" stroke-width="0.7" />
<text transform="translate(391.78,87.70) scale(0.76,1)" font-size="8.2" text-anchor="start" font-weight="normal" font-family='"Liberation Sans", sans-serif' fill="#333" >540</text>
<rect x="357.85" y="88.85" width="0.44" height="6.80" fill="#fa0000" stroke="#b00000" stroke-width="0.7" />
<text transform="translate(362.14,95.10) scale(0.76,1)" font-size="8.2" text-anchor="start" font-weight="normal" font-family='"Liberation Sans", sans-serif' fill="#333" >20</text>
<rect x="357.85" y="100.35" width="33.27" height="6.80" fill="#00f800" stroke="#10b010" stroke-width="0.7" />
<text transform="translate(394.97,106.70) scale(0.76,1)" font-size="8.2" text-anchor="start" font-weight="normal" font-family='"Liberation Sans", sans-serif' fill="#333" >596</text>
<rect x="357.85" y="107.85" width="4.60" height="6.80" fill="#fa0000" stroke="#b00000" stroke-width="0.7" />
<text transform="translate(366.30,114.10) scale(0.76,1)" font-size="8.2" text-anchor="start" font-weight="normal" font-family='"Liberation Sans", sans-serif' fill="#333" >93</text>
<rect x="357.85" y="119.35" width="20.79" height="6.80" fill="#00f800" stroke="#10b010" stroke-width="0.7" />
<text transform="translate(382.49,125.70) scale(0.76,1)" font-size="8.2" text-anchor="start" font-weight="normal" font-family='"Liberation Sans", sans-serif' fill="#333" >377</text>
<rect x="357.85" y="126.85" width="3.29" height="6.80" fill="#fa0000" stroke="#b00000" stroke-width="0.7" />
<text transform="translate(364.99,133.10) scale(0.76,1)" font-size="8.2" text-anchor="start" font-weight="normal" font-family='"Liberation Sans", sans-serif' fill="#333" >70</text>
<rect x="357.85" y="138.35" width="29.57" height="6.80" fill="#00f800" stroke="#10b010" stroke-width="0.7" />
<text transform="translate(391.27,144.70) scale(0.76,1)" font-size="8.2" text-anchor="start" font-weight="normal" font-family='"Liberation Sans", sans-serif' fill="#333" >531</text>
<rect x="357.85" y="145.85" width="13.84" height="6.80" fill="#fa0000" stroke="#b00000" stroke-width="0.7" />
<text transform="translate(375.54,152.10) scale(0.76,1)" font-size="8.2" text-anchor="start" font-weight="normal" font-family='"Liberation Sans", sans-serif' fill="#333" >255</text>
<rect x="357.85" y="157.35" width="9.79" height="6.80" fill="#00f800" stroke="#10b010" stroke-width="0.7" />
<text transform="translate(371.49,163.70) scale(0.76,1)" font-size="8.2" text-anchor="start" font-weight="normal" font-family='"Liberation Sans", sans-serif' fill="#333" >184</text>
<rect x="357.85" y="164.85" width="18.34" height="6.80" fill="#fa0000" stroke="#b00000" stroke-width="0.7" />
<text transform="translate(380.04,171.10) scale(0.76,1)" font-size="8.2" text-anchor="start" font-weight="normal" font-family='"Liberation Sans", sans-serif' fill="#333" >334</text>
<rect x="357.85" y="176.35" width="56.93" height="6.80" fill="#00f800" stroke="#10b010" stroke-width="0.7" />
<text transform="translate(418.63,182.70) scale(0.76,1)" font-size="8.2" text-anchor="start" font-weight="normal" font-family='"Liberation Sans", sans-serif' fill="#333" >1011</text>
<rect x="357.85" y="183.85" width="23.58" height="6.80" fill="#fa0000" stroke="#b00000" stroke-width="0.7" />
<text transform="translate(385.28,190.10) scale(0.76,1)" font-size="8.2" text-anchor="start" font-weight="normal" font-family='"Liberation Sans", sans-serif' fill="#333" >426</text>
<rect x="357.85" y="195.35" width="7.74" height="6.80" fill="#00f800" stroke="#10b010" stroke-width="0.7" />
<text transform="translate(369.44,201.70) scale(0.76,1)" font-size="8.2" text-anchor="start" font-weight="normal" font-family='"Liberation Sans", sans-serif' fill="#333" >148</text>
<rect x="357.85" y="202.85" width="33.78" height="6.80" fill="#fa0000" stroke="#b00000" stroke-width="0.7" />
<text transform="translate(395.49,209.10) scale(0.76,1)" font-size="8.2" text-anchor="start" font-weight="normal" font-family='"Liberation Sans", sans-serif' fill="#333" >605</text>
<rect x="357.85" y="214.35" width="10.93" height="6.80" fill="#00f800" stroke="#10b010" stroke-width="0.7" />
<text transform="translate(372.63,220.70) scale(0.76,1)" font-size="8.2" text-anchor="start" font-weight="normal" font-family='"Liberation Sans", sans-serif' fill="#333" >204</text>
<rect x="357.85" y="221.85" width="54.82" height="6.80" fill="#fa0000" stroke="#b00000" stroke-width="0.7" />
<text transform="translate(416.52,228.10) scale(0.76,1)" font-size="8.2" text-anchor="start" font-weight="normal" font-family='"Liberation Sans", sans-serif' fill="#333" >974</text>
<line x1="357.90" y1="233.30" x2="357.90" y2="240.30" stroke="#8a8a8a" stroke-width="0.9" />
<text transform="translate(361.63,239.70) scale(0.76,1)" font-size="8.2" text-anchor="start" font-weight="normal" font-family='"Liberation Sans", sans-serif' fill="#333" >11</text>
<rect x="357.85" y="240.85" width="52.71" height="6.80" fill="#fa0000" stroke="#b00000" stroke-width="0.7" />
<text transform="translate(414.41,247.10) scale(0.76,1)" font-size="8.2" text-anchor="start" font-weight="normal" font-family='"Liberation Sans", sans-serif' fill="#333" >937</text>
<rect x="357.85" y="252.35" width="32.19" height="6.80" fill="#00f800" stroke="#10b010" stroke-width="0.7" />
<text transform="translate(393.89,258.70) scale(0.76,1)" font-size="8.2" text-anchor="start" font-weight="normal" font-family='"Liberation Sans", sans-serif' fill="#333" >577</text>
<rect x="357.85" y="259.85" width="71.23" height="6.80" fill="#fa0000" stroke="#b00000" stroke-width="0.7" />
<text transform="translate(432.93,266.10) scale(0.76,1)" font-size="8.2" text-anchor="start" font-weight="normal" font-family='"Liberation Sans", sans-serif' fill="#333" >1262</text>
<line x1="357.90" y1="271.30" x2="357.90" y2="278.30" stroke="#8a8a8a" stroke-width="0.9" />
<text transform="translate(361.17,277.70) scale(0.76,1)" font-size="8.2" text-anchor="start" font-weight="normal" font-family='"Liberation Sans", sans-serif' fill="#333" >3</text>
<rect x="357.85" y="278.85" width="84.23" height="6.80" fill="#fa0000" stroke="#b00000" stroke-width="0.7" />
<text transform="translate(445.93,285.10) scale(0.76,1)" font-size="8.2" text-anchor="start" font-weight="normal" font-family='"Liberation Sans", sans-serif' fill="#333" >1490</text>
<rect x="357.85" y="290.35" width="20.16" height="6.80" fill="#00f800" stroke="#10b010" stroke-width="0.7" />
<text transform="translate(381.86,296.70) scale(0.76,1)" font-size="8.2" text-anchor="start" font-weight="normal" font-family='"Liberation Sans", sans-serif' fill="#333" >366</text>
<rect x="357.85" y="297.85" width="68.38" height="6.80" fill="#fa0000" stroke="#b00000" stroke-width="0.7" />
<text transform="translate(430.08,304.10) scale(0.76,1)" font-size="8.2" text-anchor="start" font-weight="normal" font-family='"Liberation Sans", sans-serif' fill="#333" >1212</text>
<line x1="357.90" y1="309.30" x2="357.90" y2="316.30" stroke="#8a8a8a" stroke-width="0.9" />
<text transform="translate(361.06,315.70) scale(0.76,1)" font-size="8.2" text-anchor="start" font-weight="normal" font-family='"Liberation Sans", sans-serif' fill="#333" >1</text>
<rect x="357.85" y="316.85" width="12.70" height="6.80" fill="#fa0000" stroke="#b00000" stroke-width="0.7" />
<text transform="translate(374.39,323.10) scale(0.76,1)" font-size="8.2" text-anchor="start" font-weight="normal" font-family='"Liberation Sans", sans-serif' fill="#333" >235</text>
<rect x="357.85" y="328.35" width="3.18" height="6.80" fill="#00f800" stroke="#10b010" stroke-width="0.7" />
<text transform="translate(364.88,334.70) scale(0.76,1)" font-size="8.2" text-anchor="start" font-weight="normal" font-family='"Liberation Sans", sans-serif' fill="#333" >68</text>
<rect x="357.85" y="335.85" width="90.56" height="6.80" fill="#fa0000" stroke="#b00000" stroke-width="0.7" />
<text transform="translate(452.26,342.10) scale(0.76,1)" font-size="8.2" text-anchor="start" font-weight="normal" font-family='"Liberation Sans", sans-serif' fill="#333" >1601</text>
<rect x="357.85" y="354.85" width="12.52" height="6.80" fill="#fa0000" stroke="#b00000" stroke-width="0.7" />
<text transform="translate(374.22,361.10) scale(0.76,1)" font-size="8.2" text-anchor="start" font-weight="normal" font-family='"Liberation Sans", sans-serif' fill="#333" >232</text>
<rect x="357.85" y="366.35" width="7.05" height="6.80" fill="#00f800" stroke="#10b010" stroke-width="0.7" />
<text transform="translate(368.75,372.70) scale(0.76,1)" font-size="8.2" text-anchor="start" font-weight="normal" font-family='"Liberation Sans", sans-serif' fill="#333" >136</text>
<rect x="357.85" y="373.85" width="46.15" height="6.80" fill="#fa0000" stroke="#b00000" stroke-width="0.7" />
<text transform="translate(407.85,380.10) scale(0.76,1)" font-size="8.2" text-anchor="start" font-weight="normal" font-family='"Liberation Sans", sans-serif' fill="#333" >822</text>
<line x1="357.50" y1="107.80" x2="539.10" y2="107.80" stroke="#a8a4d8" stroke-width="1.3" />
<circle cx="539.90" cy="108.40" r="1.0" fill="#222"/>
<text x="543.30" y="111.37" font-size="8.1" text-anchor="start" font-weight="bold" font-family='"Liberation Sans", sans-serif' fill="#222" letter-spacing="0.3">40%</text>
<text x="558.70" y="229.12" font-size="8.07" text-anchor="start" font-weight="bold" font-family='"Liberation Sans", sans-serif' fill="#222" >23 882.50</text>
<line x1="357.50" y1="259.80" x2="540.30" y2="259.80" stroke="#383898" stroke-width="1.3" />
<text x="541.50" y="263.37" font-size="8.1" text-anchor="start" font-weight="bold" font-family='"Liberation Sans", sans-serif' fill="#222" letter-spacing="0.3">40%</text>
<line x1="357.50" y1="335.80" x2="540.30" y2="335.80" stroke="#7080b8" stroke-width="1.3" />
<text x="541.50" y="339.37" font-size="8.1" text-anchor="start" font-weight="bold" font-family='"Liberation Sans", sans-serif' fill="#222" letter-spacing="0.3">80%</text>
<text x="374.00" y="425.85" font-size="9.47" text-anchor="start" font-weight="normal" font-family='"Liberation Serif", serif' fill="#333" stroke="#333" stroke-width="0.22">OPEN INTEREST OPTIONS DEL 26/03/2026</text>
<text x="622.70" y="26.10" font-size="8.71" text-anchor="start" font-weight="normal" font-family='"Liberation Serif", serif' fill="#333" >Analisi future : NASDAQ MINI - 08:00</text>
<text x="784.50" y="25.93" font-size="8.2" text-anchor="start" font-weight="normal" font-family='"Liberation Serif", serif' fill="#333" >LAST</text>
<text x="828.80" y="26.08" font-size="8.67" text-anchor="start" font-weight="normal" font-family='"Liberation Serif", serif' fill="#333" >23 882.50</text>
<text x="877.90" y="25.90" font-size="8.13" text-anchor="start" font-weight="normal" font-family='"Liberation Serif", serif' fill="#333" >0.25%</text>
<rect x="635.00" y="35.30" width="13.50" height="4.20" fill="#00f800" stroke="none" stroke-width="0" />
<text x="651.50" y="39.63" font-size="6.3" text-anchor="start" font-weight="normal" font-family='"Liberation Sans", sans-serif' fill="#333" >Differenza Call</text>
<rect x="703.50" y="35.30" width="13.30" height="4.20" fill="#fa0000" stroke="none" stroke-width="0" />
<text x="720.00" y="39.63" font-size="6.3" text-anchor="start" font-weight="normal" font-family='"Liberation Sans", sans-serif' fill="#333" >Differenza Put</text>
<rect x="770.00" y="35.30" width="13.50" height="4.20" fill="#111" stroke="none" stroke-width="0" />
<text x="786.70" y="39.63" font-size="6.3" text-anchor="start" font-weight="normal" font-family='"Liberation Sans", sans-serif' fill="#333" >PrzTr</text>
<line x1="703.30" y1="50.50" x2="703.30" y2="392.50" stroke="#e9e9e9" stroke-width="1" />
<line x1="750.10" y1="50.50" x2="750.10" y2="392.50" stroke="#e9e9e9" stroke-width="1" />
<line x1="796.90" y1="50.50" x2="796.90" y2="392.50" stroke="#e9e9e9" stroke-width="1" />
<line x1="843.70" y1="50.50" x2="843.70" y2="392.50" stroke="#e9e9e9" stroke-width="1" />
<line x1="890.50" y1="50.50" x2="890.50" y2="392.50" stroke="#e9e9e9" stroke-width="1" />
<line x1="656.50" y1="50.50" x2="656.50" y2="392.50" stroke="#dedede" stroke-width="1" />
<line x1="653.50" y1="50.50" x2="656.50" y2="50.50" stroke="#444" stroke-width="0.9" />
<text transform="translate(650.50,54.14) scale(0.9,1)" font-size="8.3" text-anchor="end" font-weight="normal" font-family='"Liberation Sans", sans-serif' fill="#333" >28500</text>
<line x1="653.50" y1="69.50" x2="656.50" y2="69.50" stroke="#444" stroke-width="0.9" />
<text transform="translate(650.50,73.14) scale(0.9,1)" font-size="8.3" text-anchor="end" font-weight="normal" font-family='"Liberation Sans", sans-serif' fill="#333" >28000</text>
<line x1="653.50" y1="88.50" x2="656.50" y2="88.50" stroke="#444" stroke-width="0.9" />
<text transform="translate(650.50,92.14) scale(0.9,1)" font-size="8.3" text-anchor="end" font-weight="normal" font-family='"Liberation Sans", sans-serif' fill="#333" >27500</text>
<line x1="653.50" y1="107.50" x2="656.50" y2="107.50" stroke="#444" stroke-width="0.9" />
<text transform="translate(650.50,111.14) scale(0.9,1)" font-size="8.3" text-anchor="end" font-weight="normal" font-family='"Liberation Sans", sans-serif' fill="#333" >27000</text>
<line x1="653.50" y1="126.50" x2="656.50" y2="126.50" stroke="#444" stroke-width="0.9" />
<text transform="translate(650.50,130.14) scale(0.9,1)" font-size="8.3" text-anchor="end" font-weight="normal" font-family='"Liberation Sans", sans-serif' fill="#333" >26500</text>
<line x1="653.50" y1="145.50" x2="656.50" y2="145.50" stroke="#444" stroke-width="0.9" />
<text transform="translate(650.50,149.14) scale(0.9,1)" font-size="8.3" text-anchor="end" font-weight="normal" font-family='"Liberation Sans", sans-serif' fill="#333" >26000</text>
<line x1="653.50" y1="164.50" x2="656.50" y2="164.50" stroke="#444" stroke-width="0.9" />
<text transform="translate(650.50,168.14) scale(0.9,1)" font-size="8.3" text-anchor="end" font-weight="normal" font-family='"Liberation Sans", sans-serif' fill="#333" >25500</text>
<line x1="653.50" y1="183.50" x2="656.50" y2="183.50" stroke="#444" stroke-width="0.9" />
<text transform="translate(650.50,187.14) scale(0.9,1)" font-size="8.3" text-anchor="end" font-weight="normal" font-family='"Liberation Sans", sans-serif' fill="#333" >25000</text>
<line x1="653.50" y1="202.50" x2="656.50" y2="202.50" stroke="#444" stroke-width="0.9" />
<text transform="translate(650.50,206.14) scale(0.9,1)" font-size="8.3" text-anchor="end" font-weight="normal" font-family='"Liberation Sans", sans-serif' fill="#333" >24500</text>
<line x1="653.50" y1="221.50" x2="656.50" y2="221.50" stroke="#444" stroke-width="0.9" />
<text transform="translate(650.50,225.14) scale(0.9,1)" font-size="8.3" text-anchor="end" font-weight="normal" font-family='"Liberation Sans", sans-serif' fill="#333" >24000</text>
<line x1="653.50" y1="240.50" x2="656.50" y2="240.50" stroke="#444" stroke-width="0.9" />
<text transform="translate(650.50,244.14) scale(0.9,1)" font-size="8.3" text-anchor="end" font-weight="normal" font-family='"Liberation Sans", sans-serif' fill="#333" >23500</text>
<line x1="653.50" y1="259.50" x2="656.50" y2="259.50" stroke="#444" stroke-width="0.9" />
<text transform="translate(650.50,263.14) scale(0.9,1)" font-size="8.3" text-anchor="end" font-weight="normal" font-family='"Liberation Sans", sans-serif' fill="#333" >23000</text>
<line x1="653.50" y1="278.50" x2="656.50" y2="278.50" stroke="#444" stroke-width="0.9" />
<text transform="translate(650.50,282.14) scale(0.9,1)" font-size="8.3" text-anchor="end" font-weight="normal" font-family='"Liberation Sans", sans-serif' fill="#333" >22500</text>
<line x1="653.50" y1="297.50" x2="656.50" y2="297.50" stroke="#444" stroke-width="0.9" />
<text transform="translate(650.50,301.14) scale(0.9,1)" font-size="8.3" text-anchor="end" font-weight="normal" font-family='"Liberation Sans", sans-serif' fill="#333" >22000</text>
<line x1="653.50" y1="316.50" x2="656.50" y2="316.50" stroke="#444" stroke-width="0.9" />
<text transform="translate(650.50,320.14) scale(0.9,1)" font-size="8.3" text-anchor="end" font-weight="normal" font-family='"Liberation Sans", sans-serif' fill="#333" >21500</text>
<line x1="653.50" y1="335.50" x2="656.50" y2="335.50" stroke="#444" stroke-width="0.9" />
<text transform="translate(650.50,339.14) scale(0.9,1)" font-size="8.3" text-anchor="end" font-weight="normal" font-family='"Liberation Sans", sans-serif' fill="#333" >21000</text>
<line x1="653.50" y1="354.50" x2="656.50" y2="354.50" stroke="#444" stroke-width="0.9" />
<text transform="translate(650.50,358.14) scale(0.9,1)" font-size="8.3" text-anchor="end" font-weight="normal" font-family='"Liberation Sans", sans-serif' fill="#333" >20500</text>
<line x1="653.50" y1="373.50" x2="656.50" y2="373.50" stroke="#444" stroke-width="0.9" />
<text transform="translate(650.50,377.14) scale(0.9,1)" font-size="8.3" text-anchor="end" font-weight="normal" font-family='"Liberation Sans", sans-serif' fill="#333" >20000</text>
<line x1="653.50" y1="392.50" x2="656.50" y2="392.50" stroke="#444" stroke-width="0.9" />
<text transform="translate(650.50,396.14) scale(0.9,1)" font-size="8.3" text-anchor="end" font-weight="normal" font-family='"Liberation Sans", sans-serif' fill="#333" >19500</text>
<line x1="656.50" y1="392.50" x2="656.50" y2="396.00" stroke="#444" stroke-width="0.9" />
<text transform="translate(656.50,404.14) scale(0.9,1)" font-size="8.3" text-anchor="middle" font-weight="normal" font-family='"Liberation Sans", sans-serif' fill="#333" >-237.8</text>
<line x1="703.30" y1="392.50" x2="703.30" y2="396.00" stroke="#444" stroke-width="0.9" />
<text transform="translate(703.30,404.14) scale(0.9,1)" font-size="8.3" text-anchor="middle" font-weight="normal" font-family='"Liberation Sans", sans-serif' fill="#333" >-74.64</text>
<line x1="750.10" y1="392.50" x2="750.10" y2="396.00" stroke="#444" stroke-width="0.9" />
<text transform="translate(750.10,404.14) scale(0.9,1)" font-size="8.3" text-anchor="middle" font-weight="normal" font-family='"Liberation Sans", sans-serif' fill="#333" >88.52</text>
<line x1="796.90" y1="392.50" x2="796.90" y2="396.00" stroke="#444" stroke-width="0.9" />
<text transform="translate(796.90,404.14) scale(0.9,1)" font-size="8.3" text-anchor="middle" font-weight="normal" font-family='"Liberation Sans", sans-serif' fill="#333" >251.68</text>
<line x1="843.70" y1="392.50" x2="843.70" y2="396.00" stroke="#444" stroke-width="0.9" />
<text transform="translate(843.70,404.14) scale(0.9,1)" font-size="8.3" text-anchor="middle" font-weight="normal" font-family='"Liberation Sans", sans-serif' fill="#333" >414.84</text>
<line x1="890.50" y1="392.50" x2="890.50" y2="396.00" stroke="#444" stroke-width="0.9" />
<text transform="translate(890.50,404.14) scale(0.9,1)" font-size="8.3" text-anchor="middle" font-weight="normal" font-family='"Liberation Sans", sans-serif' fill="#333" >578</text>
<rect x="712.74" y="61.80" width="7.54" height="8.00" fill="#fff" stroke="none" stroke-width="0" />
<rect x="712.16" y="99.80" width="7.54" height="8.00" fill="#fff" stroke="none" stroke-width="0" />
<rect x="727.07" y="107.20" width="5.47" height="8.00" fill="#fff" stroke="none" stroke-width="0" />
<rect x="712.74" y="118.80" width="7.54" height="8.00" fill="#fff" stroke="none" stroke-width="0" />
<rect x="683.44" y="137.80" width="11.01" height="8.00" fill="#fff" stroke="none" stroke-width="0" />
<rect x="714.17" y="183.20" width="7.54" height="8.00" fill="#fff" stroke="none" stroke-width="0" />
<rect x="729.37" y="194.80" width="8.93" height="8.00" fill="#fff" stroke="none" stroke-width="0" />
<rect x="714.17" y="202.20" width="7.54" height="8.00" fill="#fff" stroke="none" stroke-width="0" />
<rect x="728.80" y="213.80" width="5.47" height="8.00" fill="#fff" stroke="none" stroke-width="0" />
<rect x="752.90" y="221.20" width="8.93" height="8.00" fill="#fff" stroke="none" stroke-width="0" />
<rect x="660.46" y="240.20" width="14.47" height="8.00" fill="#fff" stroke="none" stroke-width="0" />
<rect x="732.81" y="251.80" width="8.93" height="8.00" fill="#fff" stroke="none" stroke-width="0" />
<rect x="787.06" y="259.20" width="11.94" height="8.00" fill="#fff" stroke="none" stroke-width="0" />
<rect x="824.08" y="278.20" width="12.40" height="8.00" fill="#fff" stroke="none" stroke-width="0" />
<rect x="731.38" y="297.20" width="8.93" height="8.00" fill="#fff" stroke="none" stroke-width="0" />
<rect x="727.07" y="316.20" width="5.47" height="8.00" fill="#fff" stroke="none" stroke-width="0" />
<rect x="757.21" y="335.20" width="12.40" height="8.00" fill="#fff" stroke="none" stroke-width="0" />
<rect x="733.67" y="354.20" width="8.93" height="8.00" fill="#fff" stroke="none" stroke-width="0" />
<rect x="734.25" y="365.80" width="8.93" height="8.00" fill="#fff" stroke="none" stroke-width="0" />
<rect x="727.07" y="373.20" width="5.47" height="8.00" fill="#fff" stroke="none" stroke-width="0" />
<line x1="656.50" y1="225.97" x2="848.70" y2="225.97" stroke="#808080" stroke-width="1.2" />
<rect x="722.63" y="62.35" width="1.02" height="6.80" fill="#00f800" stroke="#10b010" stroke-width="0.7" />
<text transform="translate(719.28,68.70) scale(0.76,1)" font-size="8.2" text-anchor="end" font-weight="normal" font-family='"Liberation Sans", sans-serif' fill="#333" >-6</text>
<rect x="722.05" y="100.35" width="1.60" height="6.80" fill="#00f800" stroke="#10b010" stroke-width="0.7" />
<text transform="translate(718.70,106.70) scale(0.76,1)" font-size="8.2" text-anchor="end" font-weight="normal" font-family='"Liberation Sans", sans-serif' fill="#333" >-8</text>
<line x1="724.40" y1="107.80" x2="724.40" y2="114.80" stroke="#8a8a8a" stroke-width="0.9" />
<text transform="translate(728.07,114.10) scale(0.76,1)" font-size="8.2" text-anchor="start" font-weight="normal" font-family='"Liberation Sans", sans-serif' fill="#333" >2</text>
<rect x="722.63" y="119.35" width="1.02" height="6.80" fill="#00f800" stroke="#10b010" stroke-width="0.7" />
<text transform="translate(719.28,125.70) scale(0.76,1)" font-size="8.2" text-anchor="end" font-weight="normal" font-family='"Liberation Sans", sans-serif' fill="#333" >-6</text>
<rect x="696.80" y="138.35" width="26.85" height="6.80" fill="#00f800" stroke="#10b010" stroke-width="0.7" />
<text transform="translate(693.45,144.70) scale(0.76,1)" font-size="8.2" text-anchor="end" font-weight="normal" font-family='"Liberation Sans", sans-serif' fill="#333" >-96</text>
<line x1="723.60" y1="183.80" x2="723.60" y2="190.80" stroke="#8a8a8a" stroke-width="0.9" />
<text transform="translate(720.71,190.10) scale(0.76,1)" font-size="8.2" text-anchor="end" font-weight="normal" font-family='"Liberation Sans", sans-serif' fill="#333" >-1</text>
<rect x="724.35" y="195.35" width="2.17" height="6.80" fill="#00f800" stroke="#10b010" stroke-width="0.7" />
<text transform="translate(730.37,201.70) scale(0.76,1)" font-size="8.2" text-anchor="start" font-weight="normal" font-family='"Liberation Sans", sans-serif' fill="#333" >10</text>
<line x1="723.60" y1="202.80" x2="723.60" y2="209.80" stroke="#8a8a8a" stroke-width="0.9" />
<text transform="translate(720.71,209.10) scale(0.76,1)" font-size="8.2" text-anchor="end" font-weight="normal" font-family='"Liberation Sans", sans-serif' fill="#333" >-1</text>
<rect x="724.35" y="214.35" width="1.60" height="6.80" fill="#00f800" stroke="#10b010" stroke-width="0.7" />
<text transform="translate(729.80,220.70) scale(0.76,1)" font-size="8.2" text-anchor="start" font-weight="normal" font-family='"Liberation Sans", sans-serif' fill="#333" >8</text>
<rect x="724.35" y="221.85" width="25.70" height="6.80" fill="#fa0000" stroke="#b00000" stroke-width="0.7" />
<text transform="translate(753.90,228.10) scale(0.76,1)" font-size="8.2" text-anchor="start" font-weight="normal" font-family='"Liberation Sans", sans-serif' fill="#333" >92</text>
<rect x="677.28" y="240.85" width="46.37" height="6.80" fill="#fa0000" stroke="#b00000" stroke-width="0.7" />
<text transform="translate(673.93,247.10) scale(0.76,1)" font-size="8.2" text-anchor="end" font-weight="normal" font-family='"Liberation Sans", sans-serif' fill="#333" >-164</text>
<rect x="724.35" y="252.35" width="5.61" height="6.80" fill="#00f800" stroke="#10b010" stroke-width="0.7" />
<text transform="translate(733.81,258.70) scale(0.76,1)" font-size="8.2" text-anchor="start" font-weight="normal" font-family='"Liberation Sans", sans-serif' fill="#333" >22</text>
<rect x="724.35" y="259.85" width="59.86" height="6.80" fill="#fa0000" stroke="#b00000" stroke-width="0.7" />
<text transform="translate(788.06,266.10) scale(0.76,1)" font-size="8.2" text-anchor="start" font-weight="normal" font-family='"Liberation Sans", sans-serif' fill="#333" >211</text>
<rect x="724.35" y="278.85" width="96.88" height="6.80" fill="#fa0000" stroke="#b00000" stroke-width="0.7" />
<text transform="translate(825.08,285.10) scale(0.76,1)" font-size="8.2" text-anchor="start" font-weight="normal" font-family='"Liberation Sans", sans-serif' fill="#333" >340</text>
<rect x="724.35" y="297.85" width="4.18" height="6.80" fill="#fa0000" stroke="#b00000" stroke-width="0.7" />
<text transform="translate(732.38,304.10) scale(0.76,1)" font-size="8.2" text-anchor="start" font-weight="normal" font-family='"Liberation Sans", sans-serif' fill="#333" >17</text>
<line x1="724.40" y1="316.80" x2="724.40" y2="323.80" stroke="#8a8a8a" stroke-width="0.9" />
<text transform="translate(728.07,323.10) scale(0.76,1)" font-size="8.2" text-anchor="start" font-weight="normal" font-family='"Liberation Sans", sans-serif' fill="#333" >2</text>
<rect x="724.35" y="335.85" width="30.01" height="6.80" fill="#fa0000" stroke="#b00000" stroke-width="0.7" />
<text transform="translate(758.21,342.10) scale(0.76,1)" font-size="8.2" text-anchor="start" font-weight="normal" font-family='"Liberation Sans", sans-serif' fill="#333" >107</text>
<rect x="724.35" y="354.85" width="6.47" height="6.80" fill="#fa0000" stroke="#b00000" stroke-width="0.7" />
<text transform="translate(734.67,361.10) scale(0.76,1)" font-size="8.2" text-anchor="start" font-weight="normal" font-family='"Liberation Sans", sans-serif' fill="#333" >25</text>
<rect x="724.35" y="366.35" width="7.05" height="6.80" fill="#00f800" stroke="#10b010" stroke-width="0.7" />
<text transform="translate(735.25,372.70) scale(0.76,1)" font-size="8.2" text-anchor="start" font-weight="normal" font-family='"Liberation Sans", sans-serif' fill="#333" >27</text>
<line x1="724.40" y1="373.80" x2="724.40" y2="380.80" stroke="#8a8a8a" stroke-width="0.9" />
<text transform="translate(728.07,380.10) scale(0.76,1)" font-size="8.2" text-anchor="start" font-weight="normal" font-family='"Liberation Sans", sans-serif' fill="#333" >2</text>
<line x1="724.00" y1="107.80" x2="847.80" y2="107.80" stroke="#a8a4d8" stroke-width="1.3" />
<circle cx="848.60" cy="108.40" r="1.0" fill="#222"/>
<text x="852.00" y="111.37" font-size="8.1" text-anchor="start" font-weight="bold" font-family='"Liberation Sans", sans-serif' fill="#222" letter-spacing="0.3">40%</text>
<text x="850.00" y="229.12" font-size="8.07" text-anchor="start" font-weight="bold" font-family='"Liberation Sans", sans-serif' fill="#222" >23 882.50</text>
<line x1="724.00" y1="259.80" x2="849.00" y2="259.80" stroke="#383898" stroke-width="1.3" />
<text x="850.20" y="263.37" font-size="8.1" text-anchor="start" font-weight="bold" font-family='"Liberation Sans", sans-serif' fill="#222" letter-spacing="0.3">40%</text>
<line x1="724.00" y1="335.80" x2="849.00" y2="335.80" stroke="#7080b8" stroke-width="1.3" />
<text x="850.20" y="339.37" font-size="8.1" text-anchor="start" font-weight="bold" font-family='"Liberation Sans", sans-serif' fill="#222" letter-spacing="0.3">80%</text>
<text x="646.00" y="425.87" font-size="9.52" text-anchor="start" font-weight="normal" font-family='"Liberation Serif", serif' fill="#333" stroke="#333" stroke-width="0.22">DIFF. OPEN INTEREST TRA IL 25/03/2026 E 26/03/2026</text>
<line x1="957.00" y1="37.00" x2="971.00" y2="37.00" stroke="#c9a595" stroke-width="1.4" />
<text transform="translate(973.80,40.15) scale(0.9,1)" font-size="7.2" text-anchor="start" font-weight="normal" font-family='"Liberation Sans", sans-serif' fill="#333" >DS-2</text>
<line x1="998.80" y1="37.00" x2="1012.00" y2="37.00" stroke="#c84858" stroke-width="1.4" />
<text transform="translate(1015.00,40.15) scale(0.9,1)" font-size="7.2" text-anchor="start" font-weight="normal" font-family='"Liberation Sans", sans-serif' fill="#333" >DS-1</text>
<line x1="1040.50" y1="37.00" x2="1054.00" y2="37.00" stroke="#66dd66" stroke-width="1.4" />
<text transform="translate(1056.70,40.15) scale(0.9,1)" font-size="7.2" text-anchor="start" font-weight="normal" font-family='"Liberation Sans", sans-serif' fill="#333" >DS+1</text>
<line x1="1082.30" y1="37.00" x2="1095.70" y2="37.00" stroke="#3a9a5a" stroke-width="1.4" />
<text transform="translate(1098.40,40.15) scale(0.9,1)" font-size="7.2" text-anchor="start" font-weight="normal" font-family='"Liberation Sans", sans-serif' fill="#333" >DS+2</text>
<line x1="1124.60" y1="37.00" x2="1136.60" y2="37.00" stroke="#222" stroke-width="1.4" stroke-dasharray="3,1.5"/>
<text transform="translate(1140.00,40.15) scale(0.9,1)" font-size="7.2" text-anchor="start" font-weight="normal" font-family='"Liberation Sans", sans-serif' fill="#333" >PrzTr</text>
<line x1="919.00" y1="51.50" x2="1170.00" y2="51.50" stroke="#e0e0e0" stroke-width="1" />
<text transform="translate(1174.50,54.44) scale(0.9,1)" font-size="8.3" text-anchor="start" font-weight="normal" font-family='"Liberation Sans", sans-serif' fill="#333" >26100</text>
<line x1="919.00" y1="120.07" x2="1170.00" y2="120.07" stroke="#e0e0e0" stroke-width="1" />
<text transform="translate(1174.50,123.00) scale(0.9,1)" font-size="8.3" text-anchor="start" font-weight="normal" font-family='"Liberation Sans", sans-serif' fill="#333" >25100</text>
<line x1="919.00" y1="188.63" x2="1170.00" y2="188.63" stroke="#e0e0e0" stroke-width="1" />
<text transform="translate(1174.50,191.57) scale(0.9,1)" font-size="8.3" text-anchor="start" font-weight="normal" font-family='"Liberation Sans", sans-serif' fill="#333" >24100</text>
<line x1="919.00" y1="257.20" x2="1172.40" y2="257.20" stroke="#e6e6e6" stroke-width="1" />
<text transform="translate(1174.80,259.44) scale(0.9,1)" font-size="8.3" text-anchor="start" font-weight="normal" font-family='"Liberation Sans", sans-serif' fill="#333" >23100</text>
<line x1="919.30" y1="256.80" x2="919.30" y2="261.50" stroke="#444" stroke-width="0.9" />
<line x1="1172.40" y1="257.20" x2="1172.40" y2="261.00" stroke="#444" stroke-width="0.9" />
<line x1="933.40" y1="256.80" x2="933.40" y2="260.50" stroke="#444" stroke-width="0.9" />
<text transform="translate(935.40,261.8) rotate(-90) scale(0.72,1)" font-size="8.6" text-anchor="end" font-family='"Liberation Sans", sans-serif' fill="#333">05/03/2026</text>
<line x1="947.46" y1="256.80" x2="947.46" y2="260.50" stroke="#444" stroke-width="0.9" />
<text transform="translate(949.46,261.8) rotate(-90) scale(0.72,1)" font-size="8.6" text-anchor="end" font-family='"Liberation Sans", sans-serif' fill="#333">06/03/2026</text>
<line x1="961.52" y1="256.80" x2="961.52" y2="260.50" stroke="#444" stroke-width="0.9" />
<text transform="translate(963.52,261.8) rotate(-90) scale(0.72,1)" font-size="8.6" text-anchor="end" font-family='"Liberation Sans", sans-serif' fill="#333">09/03/2026</text>
<line x1="975.58" y1="256.80" x2="975.58" y2="260.50" stroke="#444" stroke-width="0.9" />
<text transform="translate(977.58,261.8) rotate(-90) scale(0.72,1)" font-size="8.6" text-anchor="end" font-family='"Liberation Sans", sans-serif' fill="#333">10/03/2026</text>
<line x1="989.64" y1="256.80" x2="989.64" y2="260.50" stroke="#444" stroke-width="0.9" />
<text transform="translate(991.64,261.8) rotate(-90) scale(0.72,1)" font-size="8.6" text-anchor="end" font-family='"Liberation Sans", sans-serif' fill="#333">11/03/2026</text>
<line x1="1003.70" y1="256.80" x2="1003.70" y2="260.50" stroke="#444" stroke-width="0.9" />
<text transform="translate(1005.70,261.8) rotate(-90) scale(0.72,1)" font-size="8.6" text-anchor="end" font-family='"Liberation Sans", sans-serif' fill="#333">12/03/2026</text>
<line x1="1017.76" y1="256.80" x2="1017.76" y2="260.50" stroke="#444" stroke-width="0.9" />
<text transform="translate(1019.76,261.8) rotate(-90) scale(0.72,1)" font-size="8.6" text-anchor="end" font-family='"Liberation Sans", sans-serif' fill="#333">13/03/2026</text>
<line x1="1031.82" y1="256.80" x2="1031.82" y2="260.50" stroke="#444" stroke-width="0.9" />
<text transform="translate(1033.82,261.8) rotate(-90) scale(0.72,1)" font-size="8.6" text-anchor="end" font-family='"Liberation Sans", sans-serif' fill="#333">16/03/2026</text>
<line x1="1045.88" y1="256.80" x2="1045.88" y2="260.50" stroke="#444" stroke-width="0.9" />
<text transform="translate(1047.88,261.8) rotate(-90) scale(0.72,1)" font-size="8.6" text-anchor="end" font-family='"Liberation Sans", sans-serif' fill="#333">17/03/2026</text>
<line x1="1059.94" y1="256.80" x2="1059.94" y2="260.50" stroke="#444" stroke-width="0.9" />
<text transform="translate(1061.94,261.8) rotate(-90) scale(0.72,1)" font-size="8.6" text-anchor="end" font-family='"Liberation Sans", sans-serif' fill="#333">18/03/2026</text>
<line x1="1074.00" y1="256.80" x2="1074.00" y2="260.50" stroke="#444" stroke-width="0.9" />
<text transform="translate(1076.00,261.8) rotate(-90) scale(0.72,1)" font-size="8.6" text-anchor="end" font-family='"Liberation Sans", sans-serif' fill="#333">19/03/2026</text>
<line x1="1088.06" y1="256.80" x2="1088.06" y2="260.50" stroke="#444" stroke-width="0.9" />
<text transform="translate(1090.06,261.8) rotate(-90) scale(0.72,1)" font-size="8.6" text-anchor="end" font-family='"Liberation Sans", sans-serif' fill="#333">20/03/2026</text>
<line x1="1102.12" y1="256.80" x2="1102.12" y2="260.50" stroke="#444" stroke-width="0.9" />
<text transform="translate(1104.12,261.8) rotate(-90) scale(0.72,1)" font-size="8.6" text-anchor="end" font-family='"Liberation Sans", sans-serif' fill="#333">23/03/2026</text>
<line x1="1116.18" y1="256.80" x2="1116.18" y2="260.50" stroke="#444" stroke-width="0.9" />
<text transform="translate(1118.18,261.8) rotate(-90) scale(0.72,1)" font-size="8.6" text-anchor="end" font-family='"Liberation Sans", sans-serif' fill="#333">24/03/2026</text>
<line x1="1130.24" y1="256.80" x2="1130.24" y2="260.50" stroke="#444" stroke-width="0.9" />
<text transform="translate(1132.24,261.8) rotate(-90) scale(0.72,1)" font-size="8.6" text-anchor="end" font-family='"Liberation Sans", sans-serif' fill="#333">25/03/2026</text>
<line x1="1144.30" y1="256.80" x2="1144.30" y2="260.50" stroke="#444" stroke-width="0.9" />
<text transform="translate(1146.30,261.8) rotate(-90) scale(0.72,1)" font-size="8.6" text-anchor="end" font-family='"Liberation Sans", sans-serif' fill="#333">26/03/2026</text>
<line x1="1158.36" y1="256.80" x2="1158.36" y2="260.50" stroke="#444" stroke-width="0.9" />
<text transform="translate(1160.36,261.8) rotate(-90) scale(0.72,1)" font-size="8.6" text-anchor="end" font-family='"Liberation Sans", sans-serif' fill="#333">27/03/2026</text>
<line x1="950.60" y1="203.00" x2="1172.40" y2="203.00" stroke="#555" stroke-width="0.9" stroke-dasharray="1.2,1.2"/>
<text x="921.00" y="205.60" font-size="7.05" text-anchor="start" font-weight="bold" font-family='"Liberation Sans", sans-serif' fill="#222" >23882.5</text>
<line x1="933.40" y1="94.70" x2="933.40" y2="127.60" stroke="#333" stroke-width="0.9" />
<rect x="927.90" y="101.10" width="11.00" height="10.30" fill="#f20000" stroke="#6a0000" stroke-width="0.7" />
<line x1="947.46" y1="102.30" x2="947.46" y2="139.30" stroke="#333" stroke-width="0.9" />
<rect x="941.96" y="110.60" width="11.00" height="25.10" fill="#f20000" stroke="#6a0000" stroke-width="0.7" />
<line x1="961.52" y1="108.10" x2="961.52" y2="181.00" stroke="#333" stroke-width="0.9" />
<rect x="956.02" y="113.70" width="11.00" height="29.20" fill="#00f000" stroke="#0a5a0a" stroke-width="0.7" />
<line x1="975.58" y1="96.70" x2="975.58" y2="122.60" stroke="#333" stroke-width="0.9" />
<rect x="970.08" y="110.90" width="11.00" height="2.80" fill="#00f000" stroke="#0a5a0a" stroke-width="0.7" />
<line x1="989.64" y1="99.50" x2="989.64" y2="120.60" stroke="#333" stroke-width="0.9" />
<rect x="984.14" y="111.70" width="11.00" height="4.80" fill="#f20000" stroke="#6a0000" stroke-width="0.7" />
<line x1="1003.70" y1="116.20" x2="1003.70" y2="144.90" stroke="#333" stroke-width="0.9" />
<rect x="998.20" y="116.20" width="11.00" height="26.40" fill="#f20000" stroke="#6a0000" stroke-width="0.7" />
<line x1="1017.76" y1="125.40" x2="1017.76" y2="158.80" stroke="#333" stroke-width="0.9" />
<rect x="1012.26" y="141.50" width="11.00" height="17.30" fill="#f20000" stroke="#6a0000" stroke-width="0.7" />
<line x1="1031.82" y1="124.00" x2="1031.82" y2="161.00" stroke="#333" stroke-width="0.9" />
<rect x="1026.32" y="135.10" width="11.00" height="25.90" fill="#00f000" stroke="#0a5a0a" stroke-width="0.7" />
<line x1="1045.88" y1="118.40" x2="1045.88" y2="145.70" stroke="#333" stroke-width="0.9" />
<rect x="1040.38" y="124.80" width="11.00" height="11.10" fill="#00f000" stroke="#0a5a0a" stroke-width="0.7" />
<line x1="1059.94" y1="112.00" x2="1059.94" y2="156.80" stroke="#333" stroke-width="0.9" />
<rect x="1054.44" y="125.40" width="11.00" height="28.40" fill="#f20000" stroke="#6a0000" stroke-width="0.7" />
<line x1="1074.00" y1="145.70" x2="1074.00" y2="172.70" stroke="#333" stroke-width="0.9" />
<line x1="1068.20" y1="152.40" x2="1079.80" y2="152.40" stroke="#333" stroke-width="1.0" />
<line x1="1088.06" y1="150.70" x2="1088.06" y2="197.80" stroke="#333" stroke-width="0.9" />
<rect x="1082.56" y="151.80" width="11.00" height="28.70" fill="#f20000" stroke="#6a0000" stroke-width="0.7" />
<line x1="1102.12" y1="142.60" x2="1102.12" y2="210.80" stroke="#333" stroke-width="0.9" />
<rect x="1096.62" y="167.80" width="11.00" height="34.80" fill="#00f000" stroke="#0a5a0a" stroke-width="0.7" />
<line x1="1116.18" y1="157.40" x2="1116.18" y2="185.70" stroke="#333" stroke-width="0.9" />
<line x1="1110.38" y1="167.10" x2="1121.98" y2="167.10" stroke="#333" stroke-width="1.0" />
<line x1="1130.24" y1="157.90" x2="1130.24" y2="176.00" stroke="#333" stroke-width="0.9" />
<rect x="1124.74" y="166.20" width="11.00" height="4.00" fill="#f20000" stroke="#6a0000" stroke-width="0.7" />
<line x1="1144.30" y1="166.20" x2="1144.30" y2="211.50" stroke="#333" stroke-width="0.9" />
<rect x="1138.80" y="169.70" width="11.00" height="38.30" fill="#f20000" stroke="#6a0000" stroke-width="0.7" />
<line x1="1158.36" y1="196.40" x2="1158.36" y2="208.90" stroke="#333" stroke-width="0.9" />
<line x1="1152.56" y1="202.60" x2="1164.16" y2="202.60" stroke="#333" stroke-width="1.0" />
<line x1="918.50" y1="324.40" x2="1172.70" y2="324.40" stroke="#444" stroke-width="0.9" />
<line x1="918.50" y1="342.60" x2="1172.70" y2="342.60" stroke="#444" stroke-width="0.9" />
<line x1="918.50" y1="360.80" x2="1172.70" y2="360.80" stroke="#444" stroke-width="0.9" />
<line x1="918.50" y1="379.10" x2="1172.70" y2="379.10" stroke="#444" stroke-width="0.9" />
<line x1="918.50" y1="397.30" x2="1172.70" y2="397.30" stroke="#444" stroke-width="0.9" />
<rect x="997.80" y="412.30" width="11.80" height="1.50" fill="#047f04" stroke="none" stroke-width="0" />
<rect x="1011.86" y="398.50" width="11.80" height="15.30" fill="#047f04" stroke="none" stroke-width="0" />
<rect x="1025.92" y="364.80" width="11.80" height="49.00" fill="#047f04" stroke="none" stroke-width="0" />
<rect x="1039.98" y="338.60" width="11.80" height="75.20" fill="#047f04" stroke="none" stroke-width="0" />
<rect x="1054.04" y="332.80" width="11.80" height="81.00" fill="#047f04" stroke="none" stroke-width="0" />
<rect x="1068.10" y="329.60" width="11.80" height="84.20" fill="#047f04" stroke="none" stroke-width="0" />
<rect x="1082.16" y="324.50" width="11.80" height="89.30" fill="#047f04" stroke="none" stroke-width="0" />
<rect x="1096.22" y="329.00" width="11.80" height="84.80" fill="#047f04" stroke="none" stroke-width="0" />
<rect x="1110.28" y="329.00" width="11.80" height="84.80" fill="#047f04" stroke="none" stroke-width="0" />
<rect x="1124.34" y="330.70" width="11.80" height="83.10" fill="#047f04" stroke="none" stroke-width="0" />
<rect x="1138.40" y="326.80" width="11.80" height="87.00" fill="#047f04" stroke="none" stroke-width="0" />
<g transform="translate(932.80,411.70) rotate(-90)"><rect x="-2.5" y="-5.5" width="28.2" height="11" fill="#fff"/><text x="0" y="2.75" font-size="8.0" font-weight="bold" font-family='"Liberation Sans", sans-serif' fill="#222">0.00%</text></g>
<g transform="translate(946.86,411.70) rotate(-90)"><rect x="-2.5" y="-5.5" width="30.8" height="11" fill="#fff"/><text x="0" y="2.75" font-size="8.0" font-weight="bold" font-family='"Liberation Sans", sans-serif' fill="#222">-0.90%</text></g>
<g transform="translate(960.92,411.70) rotate(-90)"><rect x="-2.5" y="-5.5" width="32.6" height="11" fill="#fff"/><text x="0" y="2.75" font-size="8.0" font-weight="bold" font-family='"Liberation Sans", sans-serif' fill="#222">17.10%</text></g>
<g transform="translate(974.98,411.70) rotate(-90)"><rect x="-2.5" y="-5.5" width="28.2" height="11" fill="#fff"/><text x="0" y="2.75" font-size="8.0" font-weight="bold" font-family='"Liberation Sans", sans-serif' fill="#222">6.20%</text></g>
<g transform="translate(989.04,411.70) rotate(-90)"><rect x="-2.5" y="-5.5" width="32.6" height="11" fill="#fff"/><text x="0" y="2.75" font-size="8.0" font-weight="bold" font-family='"Liberation Sans", sans-serif' fill="#222">27.00%</text></g>
<g transform="translate(1003.10,409.80) rotate(-90)"><rect x="-2.5" y="-5.5" width="32.6" height="11" fill="#fff"/><text x="0" y="2.75" font-size="8.0" font-weight="bold" font-family='"Liberation Sans", sans-serif' fill="#222">38.50%</text></g>
<g transform="translate(1017.16,396.00) rotate(-90)"><rect x="-2.5" y="-5.5" width="37.1" height="11" fill="#fff"/><text x="0" y="2.75" font-size="8.0" font-weight="bold" font-family='"Liberation Sans", sans-serif' fill="#222">239.60%</text></g>
<g transform="translate(1031.22,362.30) rotate(-90)"><rect x="-2.5" y="-5.5" width="37.1" height="11" fill="#fff"/><text x="0" y="2.75" font-size="8.0" font-weight="bold" font-family='"Liberation Sans", sans-serif' fill="#222">174.80%</text></g>
<g transform="translate(1045.28,336.10) rotate(-90)"><rect x="-2.5" y="-5.5" width="32.6" height="11" fill="#fff"/><text x="0" y="2.75" font-size="8.0" font-weight="bold" font-family='"Liberation Sans", sans-serif' fill="#222">47.90%</text></g>
<g transform="translate(1059.34,330.30) rotate(-90)"><rect x="-2.5" y="-5.5" width="28.2" height="11" fill="#fff"/><text x="0" y="2.75" font-size="8.0" font-weight="bold" font-family='"Liberation Sans", sans-serif' fill="#222">7.10%</text></g>
<g transform="translate(1073.40,327.10) rotate(-90)"><rect x="-2.5" y="-5.5" width="28.2" height="11" fill="#fff"/><text x="0" y="2.75" font-size="8.0" font-weight="bold" font-family='"Liberation Sans", sans-serif' fill="#222">4.30%</text></g>
<g transform="translate(1087.46,322.00) rotate(-90)"><rect x="-2.5" y="-5.5" width="28.2" height="11" fill="#fff"/><text x="0" y="2.75" font-size="8.0" font-weight="bold" font-family='"Liberation Sans", sans-serif' fill="#222">5.20%</text></g>
<g transform="translate(1101.52,326.50) rotate(-90)"><rect x="-2.5" y="-5.5" width="30.8" height="11" fill="#fff"/><text x="0" y="2.75" font-size="8.0" font-weight="bold" font-family='"Liberation Sans", sans-serif' fill="#222">-4.80%</text></g>
<g transform="translate(1115.58,326.50) rotate(-90)"><rect x="-2.5" y="-5.5" width="28.2" height="11" fill="#fff"/><text x="0" y="2.75" font-size="8.0" font-weight="bold" font-family='"Liberation Sans", sans-serif' fill="#222">0.20%</text></g>
<g transform="translate(1129.64,328.20) rotate(-90)"><rect x="-2.5" y="-5.5" width="30.8" height="11" fill="#fff"/><text x="0" y="2.75" font-size="8.0" font-weight="bold" font-family='"Liberation Sans", sans-serif' fill="#222">-1.70%</text></g>
<g transform="translate(1143.70,324.30) rotate(-90)"><rect x="-2.5" y="-5.5" width="28.2" height="11" fill="#fff"/><text x="0" y="2.75" font-size="8.0" font-weight="bold" font-family='"Liberation Sans", sans-serif' fill="#222">4.70%</text></g>
<text x="971.20" y="426.16" font-size="9.5" text-anchor="start" font-weight="normal" font-family='"Liberation Serif", serif' fill="#333" stroke="#333" stroke-width="0.22">OPEN INTEREST FUTURE AL 26/03/2026</text>
</svg></body></html>
